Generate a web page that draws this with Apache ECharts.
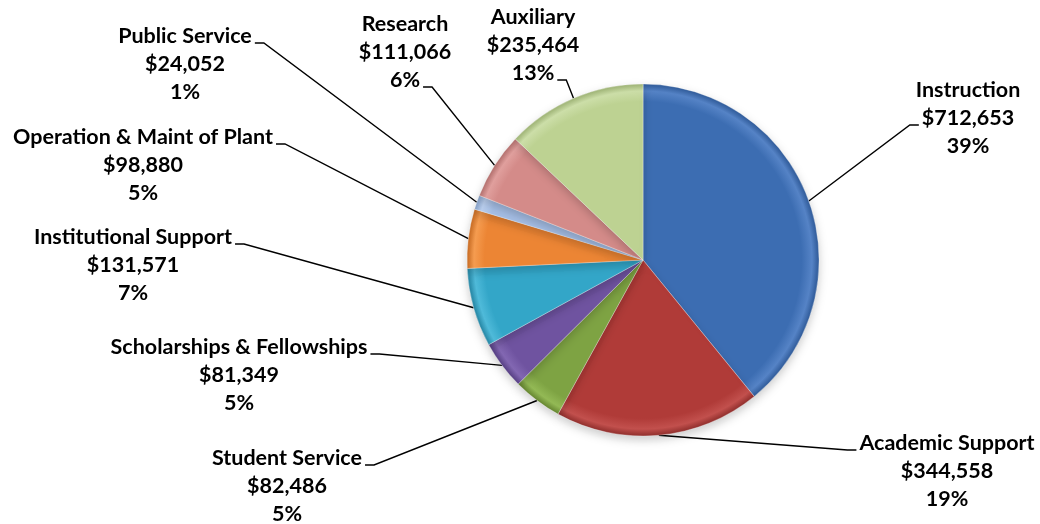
<!DOCTYPE html>
<html>
<head>
<meta charset="utf-8">
<title>Expenditures by Function</title>
<script src="https://cdn.jsdelivr.net/npm/echarts@6/dist/echarts.min.js"></script>
<style>
  html, body { margin: 0; padding: 0; background: #ffffff; }
  #chart { width: 1040px; height: 524px; }
</style>
</head>
<body>
<div id="chart"></div>
<script>
// Spending by function, clockwise from 12 o'clock
const categories = [
  'Instruction',
  'Academic Support',
  'Student Service',
  'Scholarships & Fellowships',
  'Institutional Support',
  'Operation & Maint of Plant',
  'Public Service',
  'Research',
  'Auxiliary'
];
const amounts = [712653, 344558, 82486, 81349, 131571, 98880, 24052, 111066, 235464];
const percentLabels = ['39%', '19%', '5%', '5%', '7%', '5%', '1%', '6%', '13%'];

// Slice colours: base fill, bevel highlight, rim shade
const sliceColors = [
  ['#3C6DB2', '#5583C6', '#2F5A98'],
  ['#B03B38', '#C2504D', '#8F2E2C'],
  ['#7EA343', '#93B955', '#64842F'],
  ['#6F53A0', '#8267B2', '#553E82'],
  ['#33A6C8', '#4FBAD9', '#2484A2'],
  ['#EC8534', '#F59C50', '#C66A22'],
  ['#A5BEE5', '#BACFEE', '#849FC6'],
  ['#D48B89', '#E09F9D', '#B26F6D'],
  ['#BDD292', '#CCDEA8', '#9DB274']
];

// Label placement: centre x of the text block, centre y of its first line,
// which line the leader attaches to and on which side of that line.
const labelSpots = {
  'Instruction':                { x: 968, y: 90,  line: 1, side: 'left'  },
  'Academic Support':           { x: 947, y: 443, line: 0, side: 'left'  },
  'Student Service':            { x: 287, y: 458, line: 0, side: 'right' },
  'Scholarships & Fellowships': { x: 239, y: 347, line: 0, side: 'right' },
  'Institutional Support':      { x: 133, y: 237, line: 0, side: 'right' },
  'Operation & Maint of Plant': { x: 143, y: 137, line: 0, side: 'right' },
  'Public Service':             { x: 185, y: 36,  line: 0, side: 'right' },
  'Research':                   { x: 405, y: 24,  line: 2, side: 'right' },
  'Auxiliary':                  { x: 533, y: 17,  line: 2, side: 'right' }
};

const FONT_FAMILY = 'Lato';
const FONT_SIZE = 21.5;
const LINE_HEIGHT = 28;
const PIE_CENTER = ['61.83%', '49.62%'];
const PIE_RADIUS = 176;

const measureCtx = document.createElement('canvas').getContext('2d');
measureCtx.font = 'bold ' + FONT_SIZE + 'px ' + FONT_FAMILY;

function labelLines(i) {
  return [categories[i], '$' + amounts[i].toLocaleString('en-US'), percentLabels[i]];
}

const el = document.getElementById('chart');
const chart = echarts.init(el, null, { renderer: 'canvas' });

const W = el.clientWidth, H = el.clientHeight;
const gcx = parseFloat(PIE_CENTER[0]) / 100 * W;
const gcy = parseFloat(PIE_CENTER[1]) / 100 * H;

const seriesData = categories.map(function (name, i) {
  const c = sliceColors[i];
  return {
    name: name,
    value: amounts[i],
    itemStyle: {
      color: new echarts.graphic.RadialGradient(gcx, gcy, PIE_RADIUS, [
        { offset: 0, color: c[0] },
        { offset: 0.9, color: c[0] },
        { offset: 0.96, color: c[1] },
        { offset: 1, color: c[2] }
      ], true)
    }
  };
});

chart.setOption({
  animation: false,
  backgroundColor: '#ffffff',
  series: [{
    type: 'pie',
    center: PIE_CENTER,
    radius: PIE_RADIUS,
    startAngle: 90,
    clockwise: true,
    silent: true,
    data: seriesData,
    itemStyle: {
      borderColor: 'rgba(255,255,255,0.3)',
      borderWidth: 1,
      shadowBlur: 10,
      shadowOffsetY: 4,
      shadowColor: 'rgba(0,0,0,0.2)'
    },
    label: {
      show: true,
      position: 'outer',
      formatter: function (p) { return labelLines(p.dataIndex).join('\n'); },
      fontFamily: FONT_FAMILY,
      fontWeight: 'bold',
      fontSize: FONT_SIZE,
      lineHeight: LINE_HEIGHT,
      color: '#000000',
      align: 'center'
    },
    labelLine: {
      show: true,
      lineStyle: { color: '#000000', width: 1.4 }
    },
    labelLayout: function (params) {
      const i = params.dataIndex;
      const spot = labelSpots[categories[i]];
      const layout = chart.getModel().getSeriesByIndex(0).getData().getItemLayout(i);
      const mid = (layout.startAngle + layout.endAngle) / 2;
      const p0 = [layout.cx + layout.r * Math.cos(mid), layout.cy + layout.r * Math.sin(mid)];
      const lineText = labelLines(i)[spot.line];
      const w = measureCtx.measureText(lineText).width;
      const ay = spot.y + spot.line * LINE_HEIGHT + 7;
      const gap = 3, elbow = 9;
      let p2, p1;
      if (spot.side === 'right') {
        p2 = [spot.x + w / 2 + gap, ay];
        p1 = [p2[0] + elbow, ay];
      } else {
        p2 = [spot.x - w / 2 - gap, ay];
        p1 = [p2[0] - elbow, ay];
      }
      return {
        x: spot.x,
        y: spot.y - LINE_HEIGHT / 2,
        align: 'center',
        verticalAlign: 'top',
        labelLinePoints: [p0, p1, p2]
      };
    }
  }]
});
</script>
</body>
</html>
